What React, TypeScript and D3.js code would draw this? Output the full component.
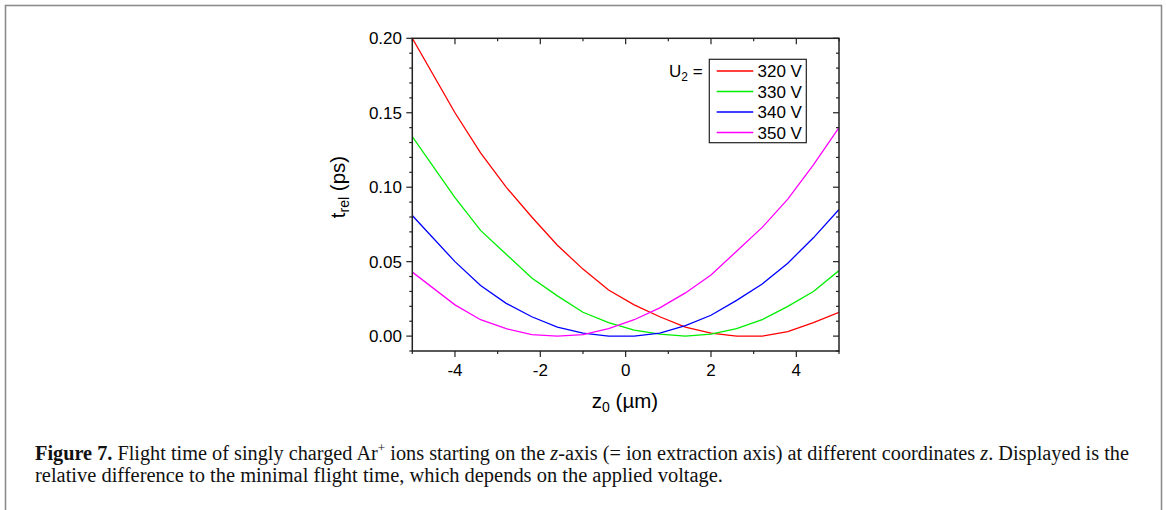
import React from "react";
import * as d3 from "d3";

const zValues = [-5, -4, -3.4, -2.8, -2.2, -1.6, -1.0, -0.4, 0.2, 0.8, 1.4, 2.0, 2.6, 3.2, 3.8, 4.4, 5.0];
const t320 = [0.2, 0.15, 0.123, 0.1, 0.08, 0.061, 0.045, 0.031, 0.021, 0.013, 0.006, 0.002, 0.0, 0.0, 0.003, 0.009, 0.016];
const t330 = [0.134, 0.093, 0.071, 0.055, 0.039, 0.027, 0.016, 0.009, 0.004, 0.0013, 0.0, 0.0013, 0.005, 0.011, 0.02, 0.03, 0.044];
const t340 = [0.081, 0.05, 0.034, 0.022, 0.013, 0.006, 0.002, 0.0, 0.0, 0.002, 0.007, 0.014, 0.024, 0.035, 0.049, 0.066, 0.085];
const t350 = [0.043, 0.021, 0.011, 0.005, 0.001, 0.0, 0.001, 0.005, 0.011, 0.019, 0.029, 0.041, 0.057, 0.073, 0.092, 0.115, 0.14];

const seriesNames = ["320 V", "330 V", "340 V", "350 V"];
const seriesColors = ["#ff0000", "#00ee00", "#0000ff", "#ff00ff"];
const seriesValues = [t320, t330, t340, t350];

const xMajorTicks = [-4, -2, 0, 2, 4];
const xMinorTicks = [-5, -3, -1, 1, 3, 5];
const yMajorTicks = [0.0, 0.05, 0.1, 0.15, 0.2];
const yMinorTicks = [-0.01, 0.01, 0.02, 0.03, 0.04, 0.06, 0.07, 0.08, 0.09, 0.11, 0.12, 0.13, 0.14, 0.16, 0.17, 0.18, 0.19];

const W = 1166;
const H = 510;
const L = 412.3, R = 839, T = 38.3, B = 351;

export default function App() {
  const x = d3.scaleLinear().domain([-5, 5]).range([L, R]);
  const y = d3.scaleLinear().domain([-0.01, 0.2]).range([B, T]);
  const line = d3
    .line<number>()
    .x((_, i) => x(zValues[i]))
    .y((d) => y(d));

  const font = "'Liberation Sans', Arial, sans-serif";
  const serif = "'Liberation Serif', 'Times New Roman', serif";
  const axisColor = "#222";
  const maj = 6, mnr = 3;

  return (
    <svg
      width={W}
      height={H}
      style={{ position: "absolute", left: 0, top: 0, background: "#fff" }}
    >
      <rect x={5.5} y={5.5} width={1156} height={520} fill="none" stroke="#8c8c8c" strokeWidth={1.6} />

      <defs>
        <clipPath id="plotclip">
          <rect x={L} y={T} width={R - L} height={B - T} />
        </clipPath>
      </defs>

      {/* curves */}
      <g clipPath="url(#plotclip)">
        {seriesValues.map((vals, i) => (
          <path key={i} d={line(vals) || ""} fill="none" stroke={seriesColors[i]} strokeWidth={1.3} />
        ))}
      </g>

      {/* frame */}
      <rect x={L} y={T} width={R - L} height={B - T} fill="none" stroke={axisColor} strokeWidth={1.5} />

      {/* x ticks bottom (outward) and top (inward) */}
      {xMajorTicks.map((v) => (
        <g key={"xm" + v}>
          <line x1={x(v)} x2={x(v)} y1={B} y2={B + maj} stroke={axisColor} strokeWidth={1.2} />
          <line x1={x(v)} x2={x(v)} y1={T} y2={T + maj} stroke={axisColor} strokeWidth={1.2} />
          <text x={x(v)} y={375.5} textAnchor="middle" fontFamily={font} fontSize={17} fill="#000">
            {v < 0 ? "-" + Math.abs(v) : String(v)}
          </text>
        </g>
      ))}
      {xMinorTicks.map((v) => (
        <g key={"xn" + v}>
          <line x1={x(v)} x2={x(v)} y1={B} y2={B + mnr} stroke={axisColor} strokeWidth={1.2} />
          <line x1={x(v)} x2={x(v)} y1={T} y2={T + mnr} stroke={axisColor} strokeWidth={1.2} />
        </g>
      ))}

      {/* y ticks left (outward) and right (inward) */}
      {yMajorTicks.map((v) => (
        <g key={"ym" + v}>
          <line x1={L - maj} x2={L} y1={y(v)} y2={y(v)} stroke={axisColor} strokeWidth={1.2} />
          <line x1={R - maj} x2={R} y1={y(v)} y2={y(v)} stroke={axisColor} strokeWidth={1.2} />
          <text x={402} y={y(v)} dy="0.36em" textAnchor="end" fontFamily={font} fontSize={17} fill="#000">
            {d3.format(".2f")(v)}
          </text>
        </g>
      ))}
      {yMinorTicks.map((v) => (
        <g key={"yn" + v}>
          <line x1={L - mnr} x2={L} y1={y(v)} y2={y(v)} stroke={axisColor} strokeWidth={1.2} />
          <line x1={R - mnr} x2={R} y1={y(v)} y2={y(v)} stroke={axisColor} strokeWidth={1.2} />
        </g>
      ))}

      {/* axis titles */}
      <text x={625} y={408} textAnchor="middle" fontFamily={font} fontSize={20.5} fill="#000">
        z<tspan fontSize={14} dy={4}>0</tspan>
        <tspan dy={-4}> (µm)</tspan>
      </text>
      <text
        transform={`translate(345,187) rotate(-90)`}
        textAnchor="middle"
        fontFamily={font}
        fontSize={20.5}
        fill="#000"
      >
        t<tspan fontSize={14} dy={4}>rel</tspan>
        <tspan dy={-4}> (ps)</tspan>
      </text>

      {/* legend */}
      <text x={669} y={77} fontFamily={font} fontSize={17} fill="#000">
        U<tspan fontSize={12} dy={4}>2</tspan>
        <tspan dy={-4}> =</tspan>
      </text>
      <rect x={709.3} y={59.3} width={97} height={83.4} fill="#fff" stroke={axisColor} strokeWidth={1.2} />
      {seriesNames.map((name, i) => {
        const cy = 71 + i * 20.5;
        return (
          <g key={name}>
            <line x1={716.7} x2={753.3} y1={cy} y2={cy} stroke={seriesColors[i]} strokeWidth={1.5} />
            <text x={757.5} y={cy} dy="0.36em" fontFamily={font} fontSize={17} fill="#000">
              {name}
            </text>
          </g>
        );
      })}

      {/* caption */}
      <text x={35} y={460} fontFamily={serif} fontSize={20} fill="#111" textLength={1094} lengthAdjust="spacingAndGlyphs">
        <tspan fontWeight="bold">Figure 7.</tspan>
        <tspan> Flight time of singly charged Ar</tspan>
        <tspan fontSize={13} dy={-8}>+</tspan>
        <tspan dy={8}> ions starting on the </tspan>
        <tspan fontStyle="italic">z</tspan>
        <tspan>-axis (= ion extraction axis) at different coordinates </tspan>
        <tspan fontStyle="italic">z</tspan>
        <tspan>. Displayed is the</tspan>
      </text>
      <text x={35} y={482} fontFamily={serif} fontSize={20} fill="#111" textLength={688} lengthAdjust="spacingAndGlyphs">
        relative difference to the minimal flight time, which depends on the applied voltage.
      </text>
    </svg>
  );
}
